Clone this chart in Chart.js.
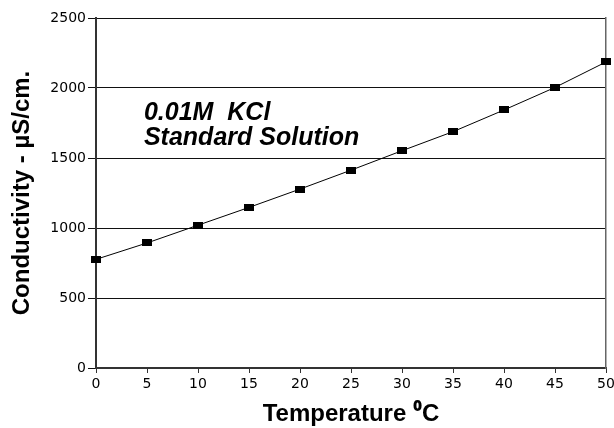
<!DOCTYPE html>
<html>
<head>
<meta charset="utf-8">
<script src="https://cdn.jsdelivr.net/npm/chart.js@4"></script>
<style>
html,body{margin:0;padding:0;background:#fff;}
#wrap{width:614px;height:428px;position:relative;}
</style>
</head>
<body>
<div id="wrap"><canvas id="c" width="614" height="428"></canvas></div>
<script>
const temperatures = [0, 5, 10, 15, 20, 25, 30, 35, 40, 45, 50];
const conductivity = [776, 893, 1020, 1147, 1278, 1413, 1552, 1688, 1843, 2004, 2186];
const xTickValues = [0, 5, 10, 15, 20, 25, 30, 35, 40, 45, 50];
const yTickValues = [0, 500, 1000, 1500, 2000, 2500];
const annotationLines = ['0.01M  KCl', 'Standard Solution'];
const xTitle = 'Temperature \u2070C';
const yTitle = 'Conductivity - \u00b5S/cm.';

// rectangular marker
const marker = document.createElement('canvas');
marker.width = 10; marker.height = 7;
const mctx = marker.getContext('2d');
mctx.fillStyle = '#000';
mctx.fillRect(0, 0, 10, 7);

const annotationPlugin = {
  id: 'annot',
  afterDatasetsDraw(chart) {
    const {ctx, scales} = chart;
    ctx.save();
    ctx.font = 'italic bold 25px "Liberation Sans", Arial, sans-serif';
    ctx.fillStyle = '#000';
    ctx.textAlign = 'left';
    ctx.textBaseline = 'alphabetic';
    const x = scales.x.getPixelForValue(4.7);
    ctx.fillText(annotationLines[0], x, scales.y.getPixelForValue(1771));
    ctx.fillText(annotationLines[1], x, scales.y.getPixelForValue(1593));
    ctx.restore();
  }
};

const tickFont = {family: '"DejaVu Sans", sans-serif', size: 14};
const titleFontFamily = '"Liberation Sans", "Noto Sans", Arial, sans-serif';

new Chart(document.getElementById('c'), {
  type: 'line',
  data: {
    datasets: [{
      data: temperatures.map((t, i) => ({x: t, y: conductivity[i]})),
      borderColor: '#000',
      borderWidth: 1,
      backgroundColor: '#000',
      pointStyle: marker,
      pointRadius: 5,
      tension: 0,
      clip: false
    }]
  },
  options: {
    responsive: false,
    animation: false,
    devicePixelRatio: 1,
    layout: {padding: {top: 18, right: 8, left: 0, bottom: 0}},
    plugins: {legend: {display: false}, tooltip: {enabled: false}},
    scales: {
      x: {
        type: 'linear',
        min: 0, max: 50,
        afterBuildTicks(scale) { scale.ticks = xTickValues.map(v => ({value: v})); },
        afterFit(scale) { scale.height = 60; scale.paddingLeft = 0; scale.paddingRight = 0; },
        ticks: {
          color: '#000',
          padding: 3,
          maxRotation: 0,
          font: tickFont,
          callback: v => String(v)
        },
        grid: {drawOnChartArea: false, drawTicks: true, tickLength: 5, color: '#333', lineWidth: 1},
        border: {display: true, color: '#333', width: 2},
        title: {
          display: true,
          text: xTitle,
          color: '#000',
          font: {family: titleFontFamily, size: 24, weight: 'bold', lineHeight: 1.1},
          padding: {top: 0, bottom: 0}
        }
      },
      y: {
        type: 'linear',
        min: 0, max: 2500,
        afterBuildTicks(scale) { scale.ticks = yTickValues.map(v => ({value: v})); },
        afterFit(scale) { scale.width = 96; scale.paddingTop = 0; scale.paddingBottom = 0; },
        ticks: {
          color: '#000',
          padding: 2,
          font: tickFont,
          callback: v => String(v)
        },
        grid: {color: '#111', lineWidth: 1, tickLength: 8},
        border: {display: true, color: '#333', width: 2},
        title: {
          display: true,
          text: yTitle,
          color: '#000',
          font: {family: titleFontFamily, size: 24, weight: 'bold', lineHeight: 1.1},
          padding: {top: 9, bottom: 0}
        }
      },
      yRight: {
        type: 'linear',
        position: 'right',
        min: 0, max: 2500,
        afterFit(scale) { scale.width = 0; },
        ticks: {display: false},
        grid: {display: false},
        border: {display: true, color: '#666', width: 1.5}
      }
    }
  },
  plugins: [annotationPlugin]
});
</script>
</body>
</html>
